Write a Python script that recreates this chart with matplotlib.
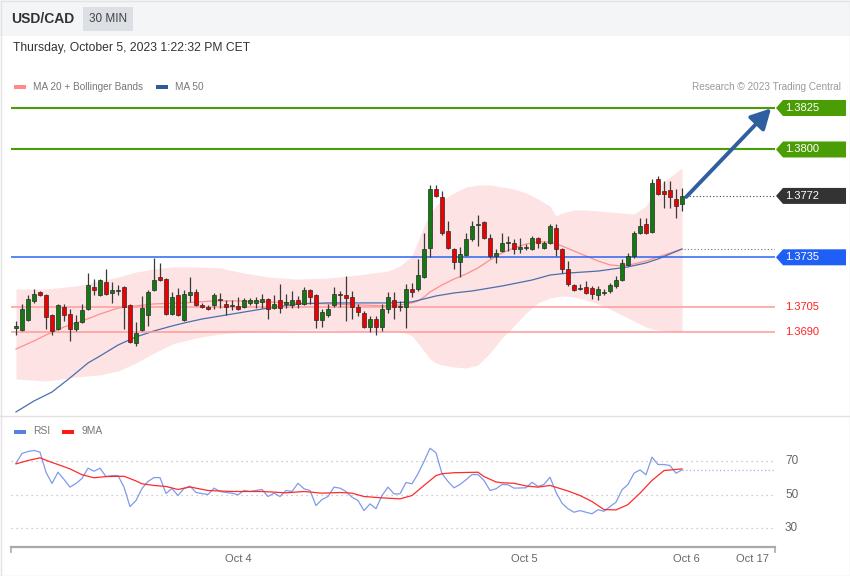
import matplotlib
matplotlib.use("Agg")
import matplotlib.pyplot as plt
import numpy as np
from matplotlib.patches import Rectangle, Polygon, FancyArrowPatch
from matplotlib.lines import Line2D
from matplotlib.transforms import blended_transform_factory, IdentityTransform

plt.rcParams['font.family'] = ['Liberation Sans', 'DejaVu Sans']

# ---------------- data ----------------
opens = [1.36924, 1.36912, 1.36972, 1.37087, 1.37141, 1.37123, 1.37002, 1.36918, 1.37050, 1.37008,
         1.36918, 1.36960, 1.37038, 1.37171, 1.37123, 1.37201, 1.37135, 1.37147, 1.37171, 1.37063,
         1.36833, 1.36912, 1.37002, 1.37153, 1.37231, 1.37219, 1.37008, 1.37123, 1.36972, 1.37123,
         1.37141, 1.37063, 1.37050, 1.37063, 1.37099, 1.37069, 1.37057, 1.37057, 1.37050, 1.37075,
         1.37075, 1.37081, 1.37099, 1.37044, 1.37093, 1.37069, 1.37063, 1.37093, 1.37069, 1.37153,
         1.37123, 1.36972, 1.37002, 1.37063, 1.37129, 1.37123, 1.37111, 1.37050, 1.37014, 1.36930,
         1.36978, 1.36930, 1.37038, 1.37093, 1.37050, 1.37050, 1.37159, 1.37159, 1.37231, 1.37406,
         1.37762, 1.37714, 1.37509, 1.37400, 1.37322, 1.37364, 1.37460, 1.37545, 1.37563, 1.37466,
         1.37358, 1.37388, 1.37436, 1.37436, 1.37400, 1.37406, 1.37400, 1.37466, 1.37406, 1.37436,
         1.37527, 1.37400, 1.37280, 1.37183, 1.37159, 1.37171, 1.37165, 1.37123, 1.37135, 1.37147,
         1.37177, 1.37213, 1.37304, 1.37358, 1.37497, 1.37551, 1.37503, 1.37822, 1.37750, 1.37756,
         1.37701, 1.37671]
closes = [1.36936, 1.37038, 1.37099, 1.37129, 1.37123, 1.36990, 1.36906, 1.37063, 1.37002, 1.36918,
          1.36960, 1.37032, 1.37183, 1.37153, 1.37213, 1.37129, 1.37153, 1.37153, 1.37050, 1.36839,
          1.36894, 1.37044, 1.37141, 1.37213, 1.37213, 1.37008, 1.37111, 1.37002, 1.37129, 1.37141,
          1.37063, 1.37050, 1.37038, 1.37123, 1.37093, 1.37050, 1.37063, 1.37038, 1.37093, 1.37093,
          1.37093, 1.37099, 1.37038, 1.37069, 1.37044, 1.37081, 1.37093, 1.37069, 1.37153, 1.37111,
          1.36972, 1.37020, 1.37038, 1.37129, 1.37123, 1.37105, 1.37050, 1.37020, 1.36930, 1.36978,
          1.36930, 1.37038, 1.37111, 1.37050, 1.37057, 1.37159, 1.37141, 1.37243, 1.37400, 1.37762,
          1.37720, 1.37497, 1.37406, 1.37322, 1.37370, 1.37460, 1.37539, 1.37551, 1.37466, 1.37358,
          1.37376, 1.37436, 1.37442, 1.37400, 1.37412, 1.37412, 1.37466, 1.37436, 1.37436, 1.37539,
          1.37400, 1.37280, 1.37189, 1.37153, 1.37165, 1.37135, 1.37129, 1.37159, 1.37141, 1.37183,
          1.37213, 1.37316, 1.37358, 1.37497, 1.37539, 1.37497, 1.37798, 1.37732, 1.37732, 1.37714,
          1.37659, 1.37720]
highs = [1.36966, 1.37069, 1.37123, 1.37159, 1.37147, 1.37129, 1.37008, 1.37069, 1.37069, 1.37038,
         1.37002, 1.37069, 1.37255, 1.37219, 1.37219, 1.37280, 1.37201, 1.37183, 1.37177, 1.37069,
         1.36960, 1.37117, 1.37153, 1.37346, 1.37316, 1.37225, 1.37141, 1.37165, 1.37153, 1.37231,
         1.37159, 1.37075, 1.37063, 1.37135, 1.37135, 1.37093, 1.37093, 1.37111, 1.37105, 1.37105,
         1.37111, 1.37129, 1.37105, 1.37123, 1.37189, 1.37129, 1.37147, 1.37117, 1.37171, 1.37159,
         1.37129, 1.37038, 1.37069, 1.37171, 1.37147, 1.37237, 1.37147, 1.37069, 1.37026, 1.36996,
         1.36996, 1.37069, 1.37141, 1.37141, 1.37087, 1.37189, 1.37195, 1.37340, 1.37497, 1.37786,
         1.37786, 1.37750, 1.37569, 1.37406, 1.37412, 1.37497, 1.37569, 1.37605, 1.37569, 1.37491,
         1.37400, 1.37497, 1.37478, 1.37460, 1.37466, 1.37430, 1.37478, 1.37472, 1.37448, 1.37551,
         1.37551, 1.37406, 1.37328, 1.37189, 1.37189, 1.37207, 1.37177, 1.37177, 1.37159, 1.37195,
         1.37237, 1.37340, 1.37376, 1.37509, 1.37587, 1.37587, 1.37822, 1.37840, 1.37810, 1.37810,
         1.37762, 1.37768]
lows = [1.36882, 1.36906, 1.36966, 1.37075, 1.37117, 1.36918, 1.36882, 1.36912, 1.36966, 1.36846,
        1.36906, 1.36954, 1.37032, 1.37123, 1.37117, 1.37123, 1.37075, 1.37123, 1.36918, 1.36833,
        1.36815, 1.36906, 1.36936, 1.37147, 1.37207, 1.37002, 1.37002, 1.36996, 1.36966, 1.37081,
        1.37057, 1.37044, 1.37032, 1.37038, 1.37044, 1.37002, 1.37032, 1.37032, 1.37044, 1.37063,
        1.37044, 1.37044, 1.36978, 1.37038, 1.37014, 1.37044, 1.37044, 1.37044, 1.37063, 1.37069,
        1.36924, 1.36930, 1.36990, 1.37050, 1.37050, 1.36966, 1.36978, 1.36996, 1.36924, 1.36900,
        1.36882, 1.36906, 1.37014, 1.36978, 1.37026, 1.36924, 1.37111, 1.37147, 1.37225, 1.37352,
        1.37714, 1.37484, 1.37400, 1.37280, 1.37231, 1.37358, 1.37448, 1.37418, 1.37460, 1.37346,
        1.37316, 1.37382, 1.37388, 1.37370, 1.37376, 1.37394, 1.37394, 1.37406, 1.37400, 1.37430,
        1.37358, 1.37255, 1.37177, 1.37147, 1.37153, 1.37129, 1.37099, 1.37093, 1.37123, 1.37135,
        1.37165, 1.37207, 1.37298, 1.37346, 1.37491, 1.37491, 1.37497, 1.37726, 1.37647, 1.37647,
        1.37587, 1.37629]

band_idx = [0, 5, 10, 14, 17, 20, 23, 26, 30, 34, 38, 42, 47, 52, 57, 62, 64, 66, 67, 68, 69, 70,
            71, 73, 75, 77, 79, 81, 83, 85, 87, 89, 90, 91, 93, 95, 97, 99, 101, 103, 105, 106,
            107, 109, 111]
bb_upper = [1.37159, 1.37159, 1.37177, 1.37207, 1.37231, 1.37261, 1.37280, 1.37292, 1.37292, 1.37286,
            1.37255, 1.37231, 1.37219, 1.37225, 1.37243, 1.37267, 1.37298, 1.37358, 1.37448, 1.37539,
            1.37617, 1.37659, 1.37695, 1.37738, 1.37774, 1.37786, 1.37786, 1.37774, 1.37762, 1.37738,
            1.37701, 1.37659, 1.37599, 1.37617, 1.37635, 1.37635, 1.37629, 1.37623, 1.37617, 1.37611,
            1.37659, 1.37720, 1.37780, 1.37834, 1.37888]
bb_lower = [1.36617, 1.36604, 1.36629, 1.36641, 1.36665, 1.36713, 1.36773, 1.36827, 1.36864, 1.36888,
            1.36900, 1.36906, 1.36912, 1.36912, 1.36906, 1.36906, 1.36906, 1.36876, 1.36833, 1.36785,
            1.36737, 1.36713, 1.36701, 1.36689, 1.36683, 1.36701, 1.36773, 1.36864, 1.36936, 1.37014,
            1.37075, 1.37105, 1.37111, 1.37117, 1.37111, 1.37093, 1.37069, 1.37038, 1.37002, 1.36966,
            1.36930, 1.36918, 1.36912, 1.36906, 1.36900]

ma20_idx = [0, 3, 5, 8, 11, 14, 17, 20, 23, 28, 33, 37, 42, 47, 52, 57, 62, 64, 66, 67, 68, 69, 71,
            73, 75, 77, 79, 81, 83, 85, 87, 89, 91, 93, 95, 97, 99, 101, 103, 105, 107, 109, 111]
ma20 = [1.36797, 1.36846, 1.36882, 1.36930, 1.36966, 1.37008, 1.37044, 1.37057, 1.37069, 1.37075,
        1.37087, 1.37087, 1.37081, 1.37075, 1.37069, 1.37063, 1.37057, 1.37063, 1.37075, 1.37087,
        1.37111, 1.37141, 1.37183, 1.37219, 1.37249, 1.37286, 1.37334, 1.37376, 1.37406, 1.37430,
        1.37442, 1.37442, 1.37418, 1.37388, 1.37358, 1.37328, 1.37304, 1.37298, 1.37310, 1.37328,
        1.37352, 1.37376, 1.37400]

ma50_idx = [0, 3, 6, 9, 12, 14, 17, 20, 23, 26, 28, 31, 34, 37, 42, 47, 52, 57, 62, 66, 68, 70, 73,
            76, 81, 86, 89, 92, 97, 102, 105, 107, 109, 111]
ma50 = [1.36418, 1.36484, 1.36538, 1.36623, 1.36713, 1.36755, 1.36821, 1.36870, 1.36906, 1.36936,
        1.36954, 1.36978, 1.36996, 1.37014, 1.37044, 1.37069, 1.37075, 1.37075, 1.37075, 1.37081,
        1.37099, 1.37117, 1.37135, 1.37147, 1.37177, 1.37213, 1.37243, 1.37255, 1.37267, 1.37292,
        1.37316, 1.37340, 1.37370, 1.37400]

rsi = [68.7, 74.5, 75.7, 76.3, 75.3, 63.3, 56.6, 63.3, 59.0, 54.4,
       56.6, 59.6, 65.7, 63.9, 65.7, 60.7, 61.3, 61.3, 54.4, 42.8,
       46.4, 53.6, 57.8, 60.1, 60.1, 50.6, 53.6, 49.4, 53.6, 55.0,
       51.2, 50.6, 50.0, 53.8, 51.8, 51.2, 50.8, 49.8, 52.4, 51.8,
       52.4, 53.0, 48.8, 50.8, 48.8, 52.4, 51.8, 56.7, 53.4, 52.4,
       43.4, 47.0, 48.8, 54.4, 53.8, 51.8, 48.4, 46.4, 40.4, 44.4,
       41.5, 49.4, 54.4, 50.4, 50.4, 57.2, 56.4, 62.4, 69.7, 77.6,
       74.9, 62.4, 57.8, 54.0, 56.0, 58.8, 61.9, 61.9, 58.4, 52.4,
       53.4, 56.0, 55.8, 53.8, 53.9, 54.0, 57.3, 54.8, 56.0, 60.3,
       51.4, 44.8, 41.5, 39.4, 40.4, 39.4, 38.5, 40.9, 40.0, 42.8,
       45.4, 52.8, 56.0, 62.7, 64.7, 61.8, 72.3, 67.9, 67.9, 67.3,
       62.7, 64.7]

rsi_ma_idx = [0, 2, 4, 6, 7, 9, 11, 13, 15, 18, 20, 21, 23, 25, 27, 29, 32, 36, 41, 45, 48, 51, 54,
              56, 58, 61, 64, 66, 68, 70, 71, 73, 77, 78, 80, 81, 83, 85, 87, 89, 92, 94, 96, 98,
              100, 102, 104, 106, 108, 111]
rsi_ma = [68.3, 70.3, 71.9, 69.1, 67.9, 65.3, 61.8, 60.0, 60.7, 60.9, 58.1, 56.4, 55.4, 54.8, 53.0,
          54.5, 52.4, 51.8, 51.8, 51.0, 51.8, 50.8, 51.2, 50.8, 48.8, 48.0, 47.4, 49.4, 55.4, 61.3,
          62.4, 63.0, 63.3, 60.7, 57.5, 57.0, 56.7, 55.1, 54.4, 55.4, 52.1, 49.4, 45.8, 41.0, 40.8,
          44.0, 50.8, 58.4, 64.3, 65.3]

levels_res = [1.3825, 1.3800]
level_last = 1.3772
level_pivot = 1.3735
levels_sup = [1.3705, 1.3690]
rsi_levels = [70, 50, 30]
x_labels = ["Oct 4", "Oct 5", "Oct 6", "Oct 17"]
x_label_pos = [37.0, 84.8, 111.8, 122.8]

# ---------------- figure ----------------
W, H = 850, 576
fig = plt.figure(figsize=(8.5, 5.76), dpi=100, facecolor='white')

def fx(px):
    return px / W

def fy(py):
    return 1 - py / H

# header + frame
fig.add_artist(Rectangle((0, fy(36)), 1, 36 / H, transform=fig.transFigure,
                         facecolor='#f4f5f7', edgecolor='none', zorder=0))
fig.add_artist(Rectangle((fx(83), fy(31)), 50 / W, 24 / H, transform=fig.transFigure,
                         facecolor='#dcdfe4', edgecolor='none', zorder=1))
fig.add_artist(Rectangle((fx(0.5), fy(575.5)), 849 / W, 575 / H, transform=fig.transFigure,
                         facecolor='none', edgecolor='#e3e3e3', lw=1, zorder=1))
fig.add_artist(Line2D([0, 1], [fy(416), fy(416)], transform=fig.transFigure, color='#e2e2e2', lw=1))

fig.text(fx(11), fy(19), "USD/CAD", fontsize=10, fontweight='bold', color='#333333', va='center')
fig.text(fx(108), fy(19), "30 MIN", fontsize=8.5, color='#444444', va='center', ha='center')
fig.text(fx(13), fy(48), "Thursday, October 5, 2023 1:22:32 PM CET", fontsize=8.7,
         color='#333333', va='center')

# legends
fig.add_artist(Rectangle((fx(14), fy(88.5)), 12 / W, 4 / H, transform=fig.transFigure,
                         facecolor='#ff8a8a', edgecolor='none'))
fig.text(fx(33), fy(86.5), "MA 20 + Bollinger Bands", fontsize=7.2, color='#777777', va='center')
fig.add_artist(Rectangle((fx(156), fy(88.5)), 12 / W, 4 / H, transform=fig.transFigure,
                         facecolor='#2e5c9a', edgecolor='none'))
fig.text(fx(175), fy(86.5), "MA 50", fontsize=7.2, color='#777777', va='center')
fig.text(fx(841), fy(86.5), "Research \u00a9 2023 Trading Central", fontsize=7.2,
         color='#9a9a9a', va='center', ha='right')

fig.add_artist(Rectangle((fx(14), fy(433.5)), 12 / W, 4 / H, transform=fig.transFigure,
                         facecolor='#5b7fe3', edgecolor='none'))
fig.text(fx(33), fy(431.5), "RSI", fontsize=7.4, color='#777777', va='center')
fig.add_artist(Rectangle((fx(62), fy(433.5)), 12 / W, 4 / H, transform=fig.transFigure,
                         facecolor='#ff1a1a', edgecolor='none'))
fig.text(fx(82), fy(431.5), "9MA", fontsize=7.4, color='#777777', va='center')

# ---------------- main price axes ----------------
ax = fig.add_axes([fx(11), fy(415), (775 - 11) / W, (415 - 100) / H])
ax.set_xlim(-5 / 6, 126.5)
ax.set_ylim(1.363994, 1.382982)
ax.axis('off')

ax.fill_between(band_idx, bb_lower, bb_upper, color='#fde3e3', lw=0, zorder=1)
ax.plot(ma20_idx, ma20, color='#ff8f8f', lw=0.9, zorder=2)
ax.plot(ma50_idx, ma50, color='#4a6fae', lw=0.9, zorder=2)

for lv in levels_res:
    ax.axhline(lv, color='#4a9d05', lw=1.5, zorder=2)
ax.axhline(level_pivot, color='#2a66f2', lw=1.1, zorder=2)
for lv in levels_sup:
    ax.axhline(lv, color='#ff9a9a', lw=1.1, zorder=2)

o = np.array(opens); c = np.array(closes); h = np.array(highs); l = np.array(lows)
idx = np.arange(len(o))
ax.vlines(idx, l, h, color='#3a3a3a', lw=0.9, zorder=3)
bottoms = np.minimum(o, c)
heights = np.maximum(np.abs(c - o), 0.00005)
cols = np.where(c >= o, '#117a11', '#ee0000')
ax.bar(idx, heights, bottom=bottoms, width=0.68, color=cols, edgecolor='#2b2b2b',
       linewidth=0.5, zorder=4)

# dotted extensions
last_i = idx[-1]
ax.plot([last_i + 0.6, 126.5], [level_last, level_last], color='#444444', lw=0.8,
        ls=(0, (1, 2)), zorder=2)
ax.plot([ma50_idx[-1] + 0.3, 126.5], [ma50[-1], ma50[-1]], color='#6a7890', lw=0.8,
        ls=(0, (1, 2)), zorder=2)

# forecast arrow
arr = FancyArrowPatch((last_i + 0.7, level_last - 0.00006), (125.85, levels_res[0] - 0.00002),
                      arrowstyle='-|>,head_length=0.75,head_width=0.4', mutation_scale=16,
                      color='#2f5f9f', lw=2.8, shrinkA=0, shrinkB=0, zorder=6)
ax.add_patch(arr)

fig.canvas.draw()

def label_box(price, face, text_color='white', boxed=True):
    yd = ax.transData.transform((0, price))[1]
    if boxed:
        pts = [(776, yd), (783, yd + 8), (846, yd + 8), (846, yd - 8), (783, yd - 8)]
        fig.add_artist(Polygon(pts, closed=True, transform=IdentityTransform(),
                               facecolor=face, edgecolor='none', zorder=5))
    fig.text(785, yd, f"{price:.4f}", transform=IdentityTransform(), fontsize=8,
             color=text_color, va='center', ha='left', zorder=6)

for lv in levels_res:
    label_box(lv, '#4a9d05')
label_box(level_last, '#333333')
label_box(level_pivot, '#1f5ff5')
for lv in levels_sup:
    label_box(lv, None, text_color='#ff2222', boxed=False)

# ---------------- RSI axes ----------------
rax = fig.add_axes([fx(11), fy(545), (775 - 11) / W, (545 - 440) / H])
rax.set_xlim(-5 / 6, 126.5)
rax.set_ylim(19.85, 82.54)
rax.axis('off')
for lv in rsi_levels:
    rax.axhline(lv, color='#bdbdbd', lw=0.9, ls=(0, (1, 3)), zorder=1)
rax.plot(idx, rsi, color='#7f9bea', lw=0.9, zorder=3)
rax.plot(rsi_ma_idx, rsi_ma, color='#ff2a2a', lw=0.9, zorder=4)
rax.plot([idx[-1], 126.5], [rsi[-1], rsi[-1]], color='#9fb2f0', lw=0.9, ls=(0, (1, 2)), zorder=2)

tr = blended_transform_factory(fig.transFigure, rax.transData)
for lv in rsi_levels:
    rax.text(fx(785), lv, str(lv), transform=tr, fontsize=8.5, color='#666666', va='center',
             ha='left')

# x axis
fig.add_artist(Line2D([fx(11), fx(775)], [fy(547), fy(547)], transform=fig.transFigure,
                      color='#aaaaaa', lw=1.6))
for xp in (11, 775):
    fig.add_artist(Line2D([fx(xp), fx(xp)], [fy(546.5), fy(552)], transform=fig.transFigure,
                          color='#aaaaaa', lw=1.2))
trx = blended_transform_factory(rax.transData, fig.transFigure)
for lab, pos in zip(x_labels, x_label_pos):
    rax.text(pos, fy(559), lab, transform=trx, fontsize=8, color='#666666', ha='center',
             va='center')

fig.savefig("out.png", dpi=100, facecolor='white')
